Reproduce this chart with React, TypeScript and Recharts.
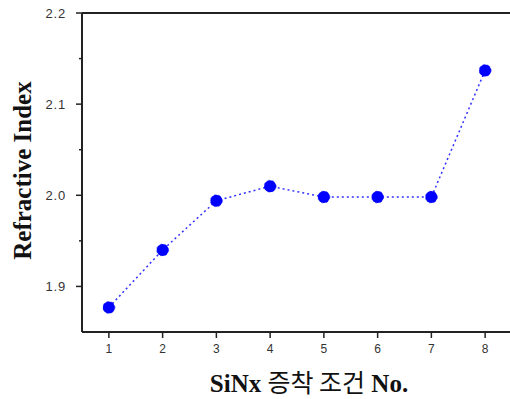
import React from 'react';
import { LineChart, Line, XAxis, YAxis, ReferenceLine } from 'recharts';

const conditions = [1, 2, 3, 4, 5, 6, 7, 8];
const refractiveIndex = [1.877, 1.94, 1.994, 2.01, 1.998, 1.998, 1.998, 2.137];
const yMajorTicks = [1.9, 2.0, 2.1, 2.2];
const yMinorTicks = [1.95, 2.05, 2.15];

const data = conditions.map((c, i) => ({ condition: c, n: refractiveIndex[i] }));
const yTicks = [...yMajorTicks, ...yMinorTicks].sort((a, b) => a - b);

const AXIS = '#222';
const serif = '"Liberation Serif", "Times New Roman", serif';
const sans = '"Liberation Sans", Arial, sans-serif';

const YTick = (props: any) => {
  const { x, y, payload } = props;
  const major = yMajorTicks.some((t) => Math.abs(t - payload.value) < 1e-6);
  const len = major ? 6 : 3;
  return (
    <g>
      <line x1={82 - len} x2={82} y1={y} y2={y} stroke={AXIS} strokeWidth={1.5} />
      {major && (
        <text x={x - 8} y={y} dy={4.5} textAnchor="end" fontSize={13} letterSpacing={0.8}
          fill="#333" fontFamily={sans}>
          {payload.value.toFixed(1)}
        </text>
      )}
    </g>
  );
};

const XTick = (props: any) => {
  const { x, y, payload } = props;
  return (
    <g>
      <line x1={x} x2={x} y1={y - 8} y2={y - 2} stroke={AXIS} strokeWidth={1.5} />
      <text x={x} y={y + 13} textAnchor="middle" fontSize={12} fill="#333" fontFamily={sans}>
        {payload.value}
      </text>
    </g>
  );
};

const YLabel = (props: any) => {
  const vb = props.viewBox || {};
  const cy = vb.y + vb.height / 2 - 2;
  return (
    <text x={22} y={cy} transform={`rotate(-90, 22, ${cy})`} textAnchor="middle"
      dominantBaseline="central" fontSize={25} fontWeight="bold" fill="#111" fontFamily={serif}>
      Refractive Index
    </text>
  );
};

const XLabel = () => (
  <text x={309} y={392} textAnchor="middle" fontSize={25} fill="#111" fontFamily={serif}>
    <tspan fontWeight="bold">SiNx </tspan>
    <tspan fontFamily='"Noto Sans CJK KR", sans-serif' fontWeight="normal">증착 조건</tspan>
    <tspan fontWeight="bold"> No.</tspan>
  </text>
);

export default function App() {
  return (
    <div style={{ position: 'absolute', left: 0, top: 0, width: 510, height: 399, overflow: 'hidden', background: '#fff' }}>
      <LineChart width={540} height={399} data={data} margin={{ top: 13, right: 28, bottom: 0, left: 0 }}>
        <XAxis
          dataKey="condition"
          type="number"
          domain={[0.5, 8.5]}
          ticks={conditions}
          height={67}
          axisLine={{ stroke: AXIS, strokeWidth: 2 }}
          tickLine={false}
          tick={<XTick />}
          label={<XLabel />}
        />
        <YAxis
          domain={[1.85, 2.2]}
          ticks={yTicks}
          width={82}
          axisLine={{ stroke: AXIS, strokeWidth: 2 }}
          tickLine={false}
          tick={<YTick />}
          interval={0}
          label={<YLabel />}
        />
        <ReferenceLine y={2.2} stroke={AXIS} strokeWidth={2} />
        <ReferenceLine x={8.5} stroke={AXIS} strokeWidth={2} />
        <Line
          type="linear"
          dataKey="n"
          stroke="#3030ff"
          strokeWidth={1.5}
          strokeDasharray="2 3"
          dot={{ fill: '#0000ff', stroke: '#0000ff', r: 6, strokeWidth: 0.5 }}
          activeDot={false}
          isAnimationActive={false}
        />
      </LineChart>
    </div>
  );
}
